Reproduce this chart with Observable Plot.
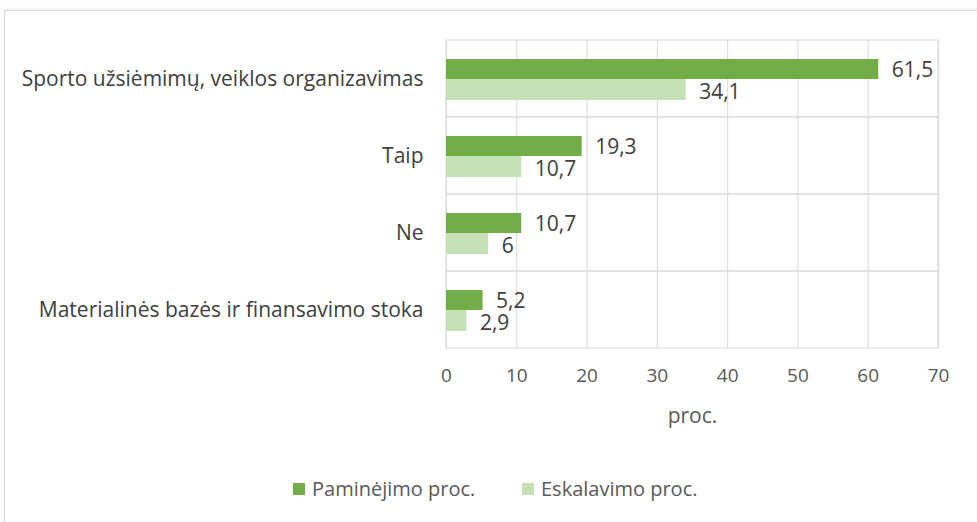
<!DOCTYPE html>
<html>
<head>
<meta charset="utf-8">
<script src="https://cdn.jsdelivr.net/npm/d3@7"></script>
<script src="https://cdn.jsdelivr.net/npm/@observablehq/plot@0.6"></script>
<style>
  body { margin: 0; background: #fff; font-family: "Open Sans", "Noto Sans", sans-serif; }
  #box { position: absolute; left: 4px; top: 10px; width: 990px; height: 530px; border: 1px solid #d9d9d9; box-shadow: 0 -1px 2px #e6e6e6; }
  #chart { position: absolute; left: 0; top: 0; }
  #legend { position: absolute; top: 475px; left: 0; width: 977px; font-size: 20px; color: #595959; }
  .item { position: absolute; top: 0; display: flex; align-items: center; gap: 7px; }
  .sw { width: 12px; height: 12px; display: inline-block; }
</style>
</head>
<body>
<div id="box"></div>
<div id="chart"></div>
<div id="legend"></div>
<script>
const categories = [
  "Sporto užsiėmimų, veiklos organizavimas",
  "Taip",
  "Ne",
  "Materialinės bazės ir finansavimo stoka"
];
const seriesNames = ["Paminėjimo proc.", "Eskalavimo proc."];
const paminejimo = [61.5, 19.3, 10.7, 5.2];
const eskalavimo = [34.1, 10.7, 6, 2.9];
const xTicks = [0, 10, 20, 30, 40, 50, 60, 70];
const xLabel = "proc.";
const colors = ["#70AD47", "#C5E0B4"];

const rowsA = categories.map((c, i) => ({category: c, value: paminejimo[i]}));
const rowsB = categories.map((c, i) => ({category: c, value: eskalavimo[i]}));
const fmt = v => String(v).replace(".", ",");

const plot = Plot.plot({
  width: 977,
  height: 440,
  marginLeft: 446,
  marginRight: 39,
  marginTop: 40,
  marginBottom: 92,
  style: {fontFamily: "'Open Sans', 'Noto Sans', sans-serif", background: "transparent"},
  x: {domain: [0, 70], ticks: xTicks, label: null},
  y: {domain: categories, padding: 0, label: null},
  marks: [
    Plot.gridX(xTicks, {stroke: "#d9d9d9", strokeOpacity: 1}),
    Plot.barX(categories, {x1: xTicks[0], x2: xTicks[xTicks.length - 1], y: d => d, fill: "none", stroke: "#d9d9d9"}),
    Plot.barX(rowsA, {x: "value", y: "category", fill: colors[0], insetTop: 19, insetBottom: 38}),
    Plot.barX(rowsB, {x: "value", y: "category", fill: colors[1], insetTop: 39, insetBottom: 17}),
    Plot.text(rowsA, {x: "value", y: "category", text: d => fmt(d.value), textAnchor: "start", dx: 13, dy: -9, fontSize: 21, fill: "#404040"}),
    Plot.text(rowsB, {x: "value", y: "category", text: d => fmt(d.value), textAnchor: "start", dx: 13, dy: 13, fontSize: 21, fill: "#404040"}),
    Plot.axisX({ticks: xTicks, tickSize: 0, tickPadding: 20, fontSize: 19, color: "#595959", label: null}),
    Plot.text([xLabel], {frameAnchor: "bottom", dy: 74, fontSize: 21, fill: "#595959"}),
    Plot.axisY({tickSize: 0, tickPadding: 23, fontSize: 21, color: "#404040", label: null})
  ]
});
document.getElementById("chart").appendChild(plot);

const legend = document.getElementById("legend");
const lefts = [293, 522];
seriesNames.forEach((name, i) => {
  const it = document.createElement("div");
  it.className = "item";
  it.style.left = lefts[i] + "px";
  it.innerHTML = `<span class="sw" style="background:${colors[i]}"></span><span>${name}</span>`;
  legend.appendChild(it);
});
</script>
</body>
</html>
